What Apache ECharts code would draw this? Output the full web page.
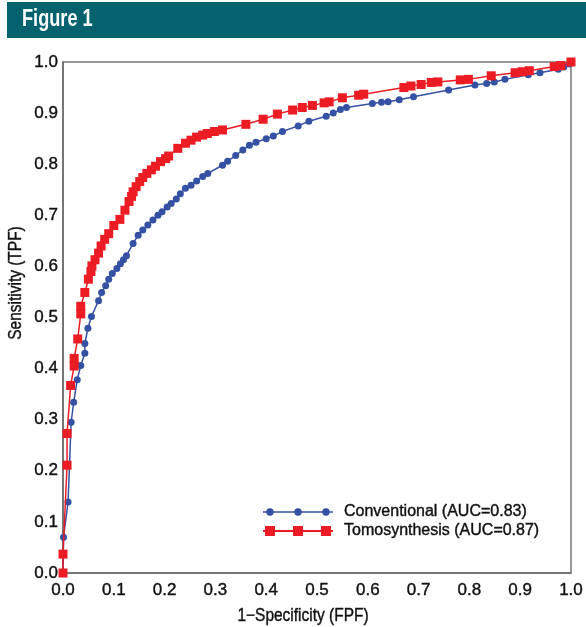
<!DOCTYPE html>
<html>
<head>
<meta charset="utf-8">
<script src="https://cdn.jsdelivr.net/npm/echarts@6/dist/echarts.min.js"></script>
<style>
html,body{margin:0;padding:0;background:#fff;}
#chart{width:586px;height:627px;}
</style>
</head>
<body>
<div id="chart"></div>
<script>
// ---- data ----
const figureTitle = "Figure 1";
const xAxisTitle = "1\u2212Specificity (FPF)";
const yAxisTitle = "Sensitivity (TPF)";
const seriesNames = ["Conventional (AUC=0.83)", "Tomosynthesis (AUC=0.87)"];
const tickValues = [0,0.1,0.2,0.3,0.4,0.5,0.6,0.7,0.8,0.9,1.0];

const convFPF = [0,0.001,0.010,0.016,0.021,0.028,0.035,0.043,0.043,0.049,0.056,0.070,0.076,0.084,0.090,0.097,0.106,0.113,0.119,0.125,0.138,0.148,0.157,0.167,0.177,0.187,0.195,0.205,0.213,0.223,0.231,0.241,0.252,0.263,0.275,0.285,0.314,0.324,0.340,0.354,0.367,0.380,0.400,0.414,0.432,0.463,0.484,0.518,0.532,0.546,0.558,0.609,0.627,0.640,0.662,0.690,0.759,0.811,0.834,0.849,0.870,0.916,0.939,0.975,0.986,0.997,1.0];
const convTPF = [0,0.070,0.139,0.295,0.334,0.378,0.406,0.430,0.449,0.479,0.502,0.533,0.549,0.562,0.575,0.586,0.596,0.605,0.613,0.621,0.645,0.661,0.671,0.681,0.691,0.700,0.707,0.716,0.723,0.732,0.742,0.753,0.759,0.767,0.776,0.782,0.798,0.806,0.817,0.828,0.837,0.843,0.850,0.855,0.864,0.875,0.884,0.894,0.900,0.907,0.911,0.919,0.921,0.922,0.926,0.932,0.945,0.955,0.958,0.961,0.966,0.975,0.979,0.986,0.990,0.996,1.0];

const tomoFPF = [0,0.0,0.008,0.008,0.015,0.022,0.022,0.029,0.035,0.035,0.043,0.050,0.055,0.057,0.063,0.070,0.075,0.082,0.090,0.100,0.112,0.122,0.130,0.135,0.138,0.144,0.151,0.157,0.165,0.174,0.182,0.192,0.202,0.208,0.226,0.241,0.252,0.263,0.275,0.284,0.298,0.314,0.360,0.394,0.422,0.452,0.471,0.491,0.514,0.524,0.550,0.582,0.592,0.671,0.685,0.705,0.725,0.738,0.782,0.798,0.843,0.890,0.904,0.918,0.967,0.980,1.0];
const tomoTPF = [0,0.037,0.211,0.273,0.367,0.405,0.420,0.458,0.507,0.522,0.549,0.575,0.590,0.601,0.613,0.626,0.640,0.653,0.664,0.680,0.692,0.710,0.727,0.737,0.746,0.756,0.766,0.774,0.782,0.789,0.796,0.805,0.811,0.816,0.831,0.841,0.847,0.853,0.857,0.860,0.864,0.867,0.878,0.888,0.898,0.906,0.911,0.915,0.920,0.922,0.930,0.935,0.937,0.950,0.953,0.956,0.960,0.961,0.965,0.966,0.973,0.979,0.981,0.983,0.991,0.993,1.0];

const zip = (a, b) => a.map((v, i) => [v, b[i]]);

const blue = '#3451a3';
const red = '#ec1c24';
const ink = '#111';
const fontMain = "'Liberation Sans',Arial,sans-serif";

const blueIcon = 'path://M0,3.3L70,3.3L70,4.7L0,4.7Z M7,0.3A3.7,3.7 0 1 1 7,7.7A3.7,3.7 0 1 1 7,0.3Z M35,0.3A3.7,3.7 0 1 1 35,7.7A3.7,3.7 0 1 1 35,0.3Z M63,0.3A3.7,3.7 0 1 1 63,7.7A3.7,3.7 0 1 1 63,0.3Z';
const redIcon = 'path://M0,4L70,4L70,6L0,6Z M2,0L12,0L12,10L2,10Z M30,0L40,0L40,10L30,10Z M58,0L68,0L68,10L58,10Z';

const chart = echarts.init(document.getElementById('chart'), null, {renderer: 'canvas'});
const option = {
  animation: false,
  backgroundColor: '#ffffff',
  graphic: [
    {type: 'rect', left: 7, top: 2, shape: {width: 579, height: 36}, style: {fill: '#03626d'}, silent: true},
    {type: 'text', x: 22, y: 20, scaleX: 0.79,
     style: {text: figureTitle, fill: '#ffffff', font: "bold 23px " + fontMain, align: 'left', verticalAlign: 'middle'}},
    {type: 'text', x: 16, y: 283, rotation: Math.PI / 2, scaleX: 0.86,
     style: {text: yAxisTitle, fill: ink, stroke: ink, lineWidth: 0.4, font: "18px " + fontMain, align: 'center', verticalAlign: 'middle'}},
    {type: 'text', x: 303, y: 616, scaleX: 0.86,
     style: {text: xAxisTitle, fill: ink, stroke: ink, lineWidth: 0.4, font: "18px " + fontMain, align: 'center', verticalAlign: 'middle'}}
  ],
  grid: {left: 63, right: 13, top: 62, bottom: 54, show: true, borderColor: '#777', borderWidth: 1.5, backgroundColor: 'transparent'},
  xAxis: {
    type: 'value', min: 0, max: 1, interval: 0.1,
    axisLine: {show: true, lineStyle: {color: '#6a6a6a', width: 1.5}},
    axisTick: {show: false},
    splitLine: {show: false},
    axisLabel: {color: ink, fontSize: 17, fontFamily: fontMain, margin: 9,
                textBorderColor: ink, textBorderWidth: 0.4,
                formatter: v => v.toFixed(1)}
  },
  yAxis: {
    type: 'value', min: 0, max: 1, interval: 0.1,
    axisLine: {show: true, lineStyle: {color: '#6a6a6a', width: 1.5}},
    axisTick: {show: false},
    splitLine: {show: false},
    axisLabel: {color: ink, fontSize: 17, fontFamily: fontMain, margin: 5,
                textBorderColor: ink, textBorderWidth: 0.4,
                formatter: v => v.toFixed(1)}
  },
  legend: {
    orient: 'vertical', left: 263, top: 503, itemGap: 1, padding: 0,
    itemWidth: 70, itemHeight: 10,
    textStyle: {fontSize: 16, fontFamily: fontMain, color: ink, lineHeight: 18, padding: [0, 0, 0, 6],
                textBorderColor: ink, textBorderWidth: 0.4},
    data: [{name: seriesNames[0], icon: blueIcon}, {name: seriesNames[1], icon: redIcon}]
  },
  series: [
    {
      name: seriesNames[0], type: 'line', data: zip(convFPF, convTPF),
      symbol: 'circle', symbolSize: 7, showAllSymbol: true,
      lineStyle: {color: blue, width: 1.5}, itemStyle: {color: blue}, z: 2
    },
    {
      name: seriesNames[1], type: 'line', data: zip(tomoFPF, tomoTPF),
      symbol: 'rect', symbolSize: 9, showAllSymbol: true,
      lineStyle: {color: red, width: 1.5}, itemStyle: {color: red}, z: 3
    }
  ]
};
chart.setOption(option);
</script>
</body>
</html>
